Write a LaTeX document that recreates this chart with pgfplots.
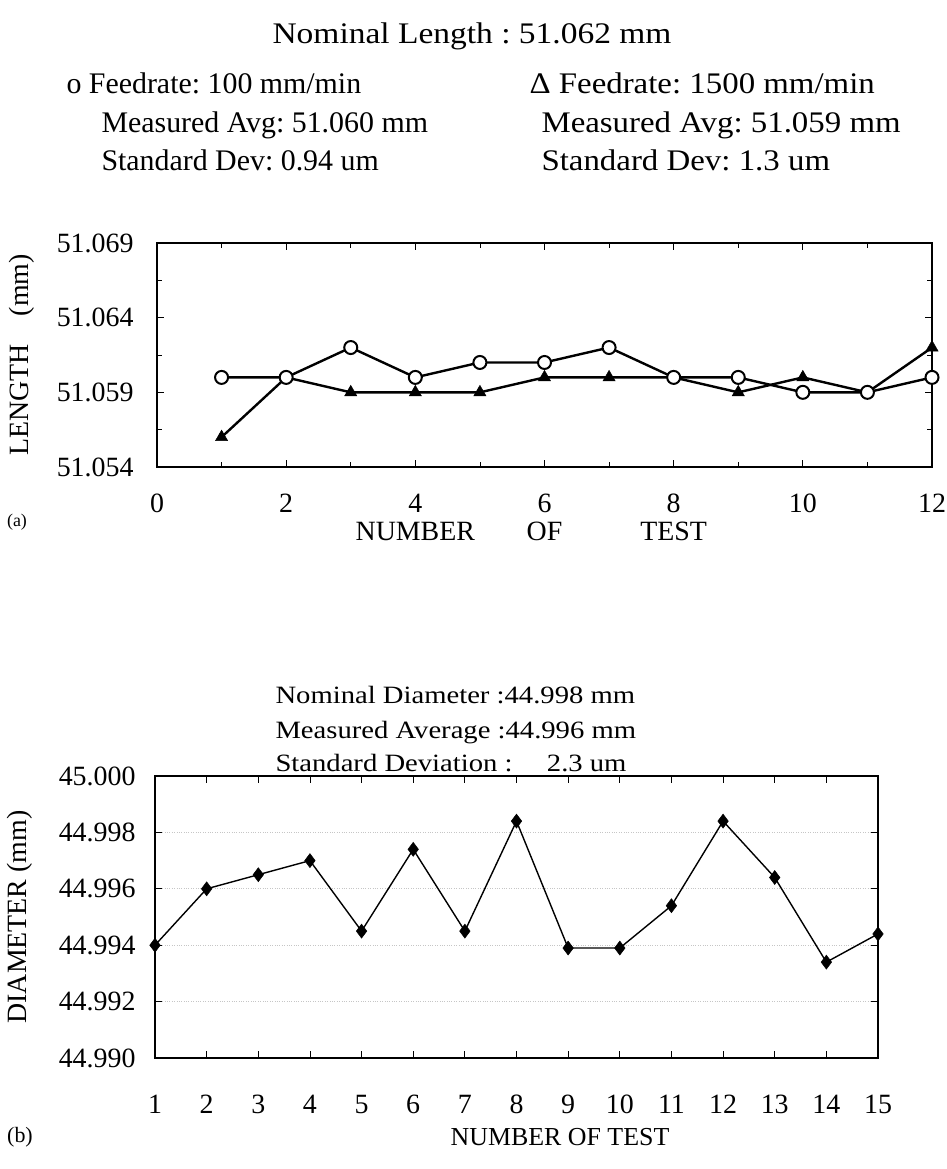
\documentclass[border=0pt]{standalone}
\usepackage{fontspec}
\setmainfont{Liberation Serif}
\usepackage{pgfplots}
\pgfplotsset{compat=1.18}
\frenchspacing
\begin{document}
\begin{tikzpicture}
\path[use as bounding box] (0bp,0bp) rectangle (947bp,-1169bp);
\pgfplotsset{
  every axis/.append style={
    font=\fontsize{28}{34}\selectfont,
    scale only axis, anchor=south west, clip=false,
    tick align=inside, tick style={black, line width=0.8bp},
    major tick length=7bp, minor tick length=5bp,
    /pgf/number format/assume math mode=true,
    xticklabel style={text height=19bp, text depth=0bp, anchor=north, inner ysep=2bp},
  },
}
% ---------- header (a)
\node[anchor=base, font=\fontsize{30}{36}\selectfont] at (472bp,-43bp) {\scalebox{1.12}[1]{Nominal Length : 51.062 mm}};
\begin{scope}[font=\fontsize{30}{36}\selectfont]
\node[anchor=base west] at (63bp,-93bp) {o Feedrate: 100 mm/min};
\node[anchor=base west] at (98bp,-132bp) {Measured Avg: 51.060 mm};
\node[anchor=base west] at (98bp,-170bp) {Standard Dev: 0.94 um};
\node[anchor=base west] at (526bp,-93bp) {\scalebox{1.1}[1]{Δ Feedrate: 1500 mm/min}};
\node[anchor=base west] at (538bp,-132bp) {\scalebox{1.1}[1]{Measured Avg: 51.059 mm}};
\node[anchor=base west] at (538bp,-170bp) {\scalebox{1.1}[1]{Standard Dev: 1.3 um}};
\end{scope}
% ---------- axis (a)
\begin{axis}[
  at={(157bp,-467bp)}, width=775bp, height=224bp,
  xmin=0, xmax=12, ymin=51.054, ymax=51.069,
  xtick={0,2,4,6,8,10,12}, minor x tick num=1,
  ytick={51.054,51.059,51.064,51.069},
  yticklabels={51.054,51.059,51.064,51.069},
  minor y tick num=1,
  xticklabel style={yshift=-24bp},
  yticklabel style={xshift=-20bp},
  axis line style={line width=2bp},
  ylabel={LENGTH\quad(mm)},
  ylabel style={at={(axis description cs:-0.174,0.5)}, anchor=center, rotate=0},
]
\addplot[black, line width=2.4bp, mark=triangle*, mark size=7bp, mark options={fill=black, line width=0.5bp}]
  coordinates {(1,51.056)(2,51.060)(3,51.059)(4,51.059)(5,51.059)(6,51.060)(7,51.060)(8,51.060)(9,51.059)(10,51.060)(11,51.059)(12,51.062)};
\addplot[black, line width=2.4bp, mark=*, mark size=6.5bp, mark options={fill=white, line width=2bp}]
  coordinates {(1,51.060)(2,51.060)(3,51.062)(4,51.060)(5,51.061)(6,51.061)(7,51.062)(8,51.060)(9,51.060)(10,51.059)(11,51.059)(12,51.060)};
\node[yshift=-64bp, inner ysep=1bp] at (axis cs:4,51.054) {NUMBER};
\node[yshift=-64bp, inner ysep=1bp] at (axis cs:6,51.054) {OF};
\node[yshift=-64bp, inner ysep=1bp] at (axis cs:8,51.054) {TEST};
\end{axis}
\node[font=\fontsize{18}{22}\selectfont] at (17bp,-522bp) {(a)};
% ---------- header (b)
\begin{scope}[font=\fontsize{25}{30}\selectfont]
\node[anchor=base west] at (272bp,-703bp) {\scalebox{1.15}[1]{Nominal Diameter :44.998 mm}};
\node[anchor=base west] at (272bp,-738bp) {\scalebox{1.15}[1]{Measured Average :44.996 mm}};
\node[anchor=base west] at (272bp,-771bp) {\scalebox{1.15}[1]{Standard Deviation :\hspace{1.2em}2.3 um}};
\end{scope}
% ---------- axis (b)
\begin{axis}[
  at={(155bp,-1058bp)}, width=723bp, height=282bp,
  xmin=1, xmax=15, xtick={1,2,...,15},
  ymin=44.990, ymax=45.000,
  ytick={44.990,44.992,44.994,44.996,44.998,45.000},
  yticklabels={44.990,44.992,44.994,44.996,44.998,45.000},
  ymajorgrids, grid style={gray!45, dotted, line width=0.7bp},
  xticklabel style={yshift=-34bp},
  yticklabel style={xshift=-16bp},
  axis line style={line width=1.6bp},
  ylabel={DIAMETER (mm)},
  ylabel style={at={(axis description cs:-0.187,0.5)}, anchor=center, rotate=0},
]
\addplot[black, line width=1.4bp, mark=diamond*, mark size=7bp, mark options={fill=black, line width=0.5bp}]
  coordinates {(1,44.9940)(2,44.9960)(3,44.9965)(4,44.9970)(5,44.9945)(6,44.9974)(7,44.9945)(8,44.9984)(9,44.9939)(10,44.9939)(11,44.9954)(12,44.9984)(13,44.9964)(14,44.9934)(15,44.9944)};
\end{axis}
\node[font=\fontsize{26}{30}\selectfont] at (560bp,-1137bp) {NUMBER OF TEST};
\node[font=\fontsize{22}{26}\selectfont] at (20bp,-1137bp) {(b)};
\end{tikzpicture}
\end{document}
